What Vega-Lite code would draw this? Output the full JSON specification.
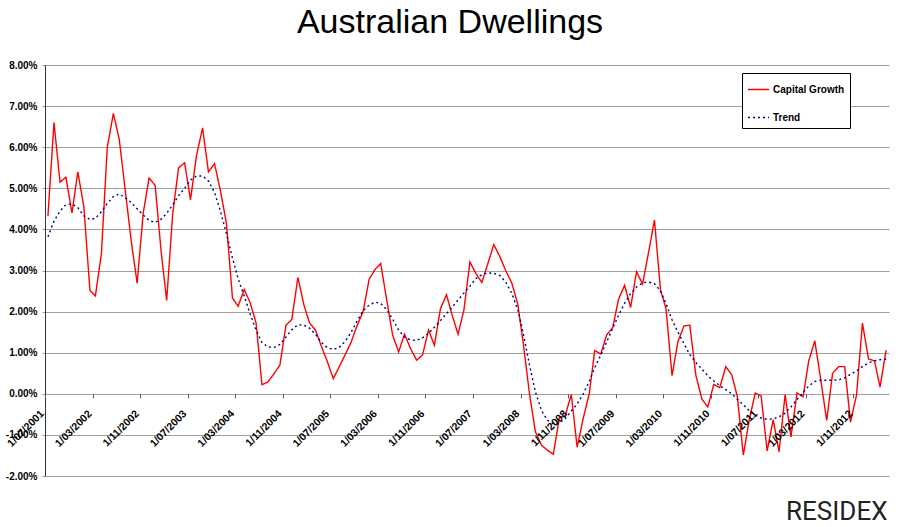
{
  "$schema": "https://vega.github.io/schema/vega-lite/v6.json",
  "width": 844,
  "height": 411,
  "autosize": {"type": "none"},
  "padding": {"left": 45, "top": 65, "right": 10, "bottom": 51},
  "background": "white",
  "title": {"text": "Australian Dwellings", "fontSize": 34, "font": "Liberation Sans", "fontWeight": "normal", "color": "#000000", "anchor": "middle", "dx": -17, "offset": -7, "baseline": "alphabetic"},
  "config": {
    "view": {"stroke": null},
    "legend": {"orient": "none", "legendX": 697, "legendY": 8, "padding": 5, "strokeColor": "#000000", "fillColor": "#ffffff", "symbolType": "stroke", "symbolSize": 440, "symbolStrokeWidth": 1.5, "labelFont": "Liberation Sans", "labelFontSize": 10, "labelFontWeight": "bold", "labelColor": "#000000", "rowPadding": 11, "labelOffset": 3, "cornerRadius": 0}
  },
  "data": {"values": [
    {"date": "2001-07-01", "Capital Growth": 4.32, "Trend": 3.82},
    {"date": "2001-08-01", "Capital Growth": 6.6, "Trend": 4.2},
    {"date": "2001-09-01", "Capital Growth": 5.15, "Trend": 4.45},
    {"date": "2001-10-01", "Capital Growth": 5.27, "Trend": 4.6},
    {"date": "2001-11-01", "Capital Growth": 4.4, "Trend": 4.62},
    {"date": "2001-12-01", "Capital Growth": 5.4, "Trend": 4.53},
    {"date": "2002-01-01", "Capital Growth": 4.55, "Trend": 4.33},
    {"date": "2002-02-01", "Capital Growth": 2.52, "Trend": 4.24},
    {"date": "2002-03-01", "Capital Growth": 2.38, "Trend": 4.27},
    {"date": "2002-04-01", "Capital Growth": 3.42, "Trend": 4.43},
    {"date": "2002-05-01", "Capital Growth": 6.0, "Trend": 4.63},
    {"date": "2002-06-01", "Capital Growth": 6.82, "Trend": 4.8},
    {"date": "2002-07-01", "Capital Growth": 6.2, "Trend": 4.86},
    {"date": "2002-08-01", "Capital Growth": 4.95, "Trend": 4.77},
    {"date": "2002-09-01", "Capital Growth": 3.7, "Trend": 4.65},
    {"date": "2002-10-01", "Capital Growth": 2.69, "Trend": 4.5},
    {"date": "2002-11-01", "Capital Growth": 4.4, "Trend": 4.35},
    {"date": "2002-12-01", "Capital Growth": 5.25, "Trend": 4.22},
    {"date": "2003-01-01", "Capital Growth": 5.07, "Trend": 4.17},
    {"date": "2003-02-01", "Capital Growth": 3.45, "Trend": 4.25},
    {"date": "2003-03-01", "Capital Growth": 2.27, "Trend": 4.39},
    {"date": "2003-04-01", "Capital Growth": 4.38, "Trend": 4.6},
    {"date": "2003-05-01", "Capital Growth": 5.5, "Trend": 4.82},
    {"date": "2003-06-01", "Capital Growth": 5.62, "Trend": 5.0},
    {"date": "2003-07-01", "Capital Growth": 4.72, "Trend": 5.2},
    {"date": "2003-08-01", "Capital Growth": 5.8, "Trend": 5.3},
    {"date": "2003-09-01", "Capital Growth": 6.47, "Trend": 5.3},
    {"date": "2003-10-01", "Capital Growth": 5.4, "Trend": 5.18},
    {"date": "2003-11-01", "Capital Growth": 5.6, "Trend": 4.9},
    {"date": "2003-12-01", "Capital Growth": 4.95, "Trend": 4.45},
    {"date": "2004-01-01", "Capital Growth": 4.15, "Trend": 3.9},
    {"date": "2004-02-01", "Capital Growth": 2.33, "Trend": 3.3},
    {"date": "2004-03-01", "Capital Growth": 2.13, "Trend": 2.8},
    {"date": "2004-04-01", "Capital Growth": 2.54, "Trend": 2.38},
    {"date": "2004-05-01", "Capital Growth": 2.22, "Trend": 1.95},
    {"date": "2004-06-01", "Capital Growth": 1.72, "Trend": 1.55},
    {"date": "2004-07-01", "Capital Growth": 0.22, "Trend": 1.25},
    {"date": "2004-08-01", "Capital Growth": 0.29, "Trend": 1.14},
    {"date": "2004-09-01", "Capital Growth": 0.49, "Trend": 1.13},
    {"date": "2004-10-01", "Capital Growth": 0.7, "Trend": 1.2},
    {"date": "2004-11-01", "Capital Growth": 1.67, "Trend": 1.38},
    {"date": "2004-12-01", "Capital Growth": 1.81, "Trend": 1.56},
    {"date": "2005-01-01", "Capital Growth": 2.83, "Trend": 1.68},
    {"date": "2005-02-01", "Capital Growth": 2.16, "Trend": 1.67},
    {"date": "2005-03-01", "Capital Growth": 1.73, "Trend": 1.6},
    {"date": "2005-04-01", "Capital Growth": 1.55, "Trend": 1.45},
    {"date": "2005-05-01", "Capital Growth": 1.16, "Trend": 1.25},
    {"date": "2005-06-01", "Capital Growth": 0.78, "Trend": 1.12},
    {"date": "2005-07-01", "Capital Growth": 0.37, "Trend": 1.08},
    {"date": "2005-08-01", "Capital Growth": 0.66, "Trend": 1.13},
    {"date": "2005-09-01", "Capital Growth": 0.96, "Trend": 1.28},
    {"date": "2005-10-01", "Capital Growth": 1.26, "Trend": 1.5},
    {"date": "2005-11-01", "Capital Growth": 1.67, "Trend": 1.78},
    {"date": "2005-12-01", "Capital Growth": 2.0, "Trend": 2.02},
    {"date": "2006-01-01", "Capital Growth": 2.79, "Trend": 2.16},
    {"date": "2006-02-01", "Capital Growth": 3.03, "Trend": 2.23},
    {"date": "2006-03-01", "Capital Growth": 3.17, "Trend": 2.2},
    {"date": "2006-04-01", "Capital Growth": 2.28, "Trend": 2.05},
    {"date": "2006-05-01", "Capital Growth": 1.43, "Trend": 1.82},
    {"date": "2006-06-01", "Capital Growth": 1.02, "Trend": 1.55},
    {"date": "2006-07-01", "Capital Growth": 1.45, "Trend": 1.38},
    {"date": "2006-08-01", "Capital Growth": 1.1, "Trend": 1.31},
    {"date": "2006-09-01", "Capital Growth": 0.82, "Trend": 1.3},
    {"date": "2006-10-01", "Capital Growth": 0.94, "Trend": 1.36},
    {"date": "2006-11-01", "Capital Growth": 1.55, "Trend": 1.47},
    {"date": "2006-12-01", "Capital Growth": 1.18, "Trend": 1.62},
    {"date": "2007-01-01", "Capital Growth": 2.07, "Trend": 1.78},
    {"date": "2007-02-01", "Capital Growth": 2.41, "Trend": 1.95},
    {"date": "2007-03-01", "Capital Growth": 1.93, "Trend": 2.1},
    {"date": "2007-04-01", "Capital Growth": 1.45, "Trend": 2.28},
    {"date": "2007-05-01", "Capital Growth": 2.03, "Trend": 2.45},
    {"date": "2007-06-01", "Capital Growth": 3.21, "Trend": 2.62},
    {"date": "2007-07-01", "Capital Growth": 2.93, "Trend": 2.8},
    {"date": "2007-08-01", "Capital Growth": 2.71, "Trend": 2.9},
    {"date": "2007-09-01", "Capital Growth": 3.17, "Trend": 2.94},
    {"date": "2007-10-01", "Capital Growth": 3.63, "Trend": 2.93},
    {"date": "2007-11-01", "Capital Growth": 3.34, "Trend": 2.88},
    {"date": "2007-12-01", "Capital Growth": 3.0, "Trend": 2.72},
    {"date": "2008-01-01", "Capital Growth": 2.7, "Trend": 2.45},
    {"date": "2008-02-01", "Capital Growth": 2.18, "Trend": 2.05},
    {"date": "2008-03-01", "Capital Growth": 1.2, "Trend": 1.45},
    {"date": "2008-04-01", "Capital Growth": 0.0, "Trend": 0.7},
    {"date": "2008-05-01", "Capital Growth": -0.92, "Trend": 0.05},
    {"date": "2008-06-01", "Capital Growth": -1.25, "Trend": -0.4},
    {"date": "2008-07-01", "Capital Growth": -1.37, "Trend": -0.64},
    {"date": "2008-08-01", "Capital Growth": -1.47, "Trend": -0.73},
    {"date": "2008-09-01", "Capital Growth": -0.58, "Trend": -0.71},
    {"date": "2008-10-01", "Capital Growth": -0.53, "Trend": -0.6},
    {"date": "2008-11-01", "Capital Growth": -0.02, "Trend": -0.42},
    {"date": "2008-12-01", "Capital Growth": -1.3, "Trend": -0.25},
    {"date": "2009-01-01", "Capital Growth": -0.6, "Trend": 0.0},
    {"date": "2009-02-01", "Capital Growth": 0.0, "Trend": 0.3},
    {"date": "2009-03-01", "Capital Growth": 1.05, "Trend": 0.64},
    {"date": "2009-04-01", "Capital Growth": 0.97, "Trend": 0.94},
    {"date": "2009-05-01", "Capital Growth": 1.43, "Trend": 1.26},
    {"date": "2009-06-01", "Capital Growth": 1.61, "Trend": 1.59},
    {"date": "2009-07-01", "Capital Growth": 2.3, "Trend": 1.91},
    {"date": "2009-08-01", "Capital Growth": 2.64, "Trend": 2.2},
    {"date": "2009-09-01", "Capital Growth": 2.1, "Trend": 2.44},
    {"date": "2009-10-01", "Capital Growth": 2.97, "Trend": 2.6},
    {"date": "2009-11-01", "Capital Growth": 2.67, "Trend": 2.7},
    {"date": "2009-12-01", "Capital Growth": 3.42, "Trend": 2.72},
    {"date": "2010-01-01", "Capital Growth": 4.23, "Trend": 2.68},
    {"date": "2010-02-01", "Capital Growth": 2.52, "Trend": 2.5},
    {"date": "2010-03-01", "Capital Growth": 2.08, "Trend": 2.2},
    {"date": "2010-04-01", "Capital Growth": 0.44, "Trend": 1.8},
    {"date": "2010-05-01", "Capital Growth": 1.27, "Trend": 1.5},
    {"date": "2010-06-01", "Capital Growth": 1.65, "Trend": 1.22},
    {"date": "2010-07-01", "Capital Growth": 1.67, "Trend": 0.95},
    {"date": "2010-08-01", "Capital Growth": 0.45, "Trend": 0.76},
    {"date": "2010-09-01", "Capital Growth": -0.13, "Trend": 0.6},
    {"date": "2010-10-01", "Capital Growth": -0.32, "Trend": 0.44},
    {"date": "2010-11-01", "Capital Growth": 0.23, "Trend": 0.31},
    {"date": "2010-12-01", "Capital Growth": 0.15, "Trend": 0.2},
    {"date": "2011-01-01", "Capital Growth": 0.66, "Trend": 0.1},
    {"date": "2011-02-01", "Capital Growth": 0.46, "Trend": 0.0},
    {"date": "2011-03-01", "Capital Growth": -0.06, "Trend": -0.13},
    {"date": "2011-04-01", "Capital Growth": -1.49, "Trend": -0.27},
    {"date": "2011-05-01", "Capital Growth": -0.64, "Trend": -0.41},
    {"date": "2011-06-01", "Capital Growth": 0.02, "Trend": -0.52},
    {"date": "2011-07-01", "Capital Growth": -0.05, "Trend": -0.59},
    {"date": "2011-08-01", "Capital Growth": -1.39, "Trend": -0.62},
    {"date": "2011-09-01", "Capital Growth": -0.63, "Trend": -0.61},
    {"date": "2011-10-01", "Capital Growth": -1.41, "Trend": -0.56},
    {"date": "2011-11-01", "Capital Growth": -0.02, "Trend": -0.47},
    {"date": "2011-12-01", "Capital Growth": -1.05, "Trend": -0.32},
    {"date": "2012-01-01", "Capital Growth": 0.02, "Trend": -0.14},
    {"date": "2012-02-01", "Capital Growth": -0.07, "Trend": 0.03},
    {"date": "2012-03-01", "Capital Growth": 0.8, "Trend": 0.19},
    {"date": "2012-04-01", "Capital Growth": 1.29, "Trend": 0.3},
    {"date": "2012-05-01", "Capital Growth": 0.36, "Trend": 0.33},
    {"date": "2012-06-01", "Capital Growth": -0.65, "Trend": 0.33},
    {"date": "2012-07-01", "Capital Growth": 0.5, "Trend": 0.33},
    {"date": "2012-08-01", "Capital Growth": 0.66, "Trend": 0.34},
    {"date": "2012-09-01", "Capital Growth": 0.66, "Trend": 0.39},
    {"date": "2012-10-01", "Capital Growth": -0.69, "Trend": 0.47},
    {"date": "2012-11-01", "Capital Growth": -0.02, "Trend": 0.56},
    {"date": "2012-12-01", "Capital Growth": 1.72, "Trend": 0.66},
    {"date": "2013-01-01", "Capital Growth": 0.85, "Trend": 0.75},
    {"date": "2013-02-01", "Capital Growth": 0.8, "Trend": 0.8},
    {"date": "2013-03-01", "Capital Growth": 0.16, "Trend": 0.83},
    {"date": "2013-04-01", "Capital Growth": 1.06, "Trend": 0.84}
  ]},
  "transform": [{"fold": ["Capital Growth", "Trend"], "as": ["series", "value"]}],
  "mark": {"type": "line", "strokeWidth": 1.4},
  "encoding": {
    "x": {
      "field": "date", "type": "temporal",
      "scale": {"type": "utc", "domain": [{"year": 2001, "month": 6, "date": 16, "utc": true}, {"year": 2013, "month": 4, "date": 16, "utc": true}]},
      "axis": {
        "orient": "bottom", "offset": -82.2,
        "values": [
          {"year": 2001, "month": 6, "date": 16, "utc": true},
          {"year": 2002, "month": 2, "date": 15, "utc": true},
          {"year": 2002, "month": 10, "date": 16, "utc": true},
          {"year": 2003, "month": 6, "date": 16, "utc": true},
          {"year": 2004, "month": 2, "date": 15, "utc": true},
          {"year": 2004, "month": 10, "date": 16, "utc": true},
          {"year": 2005, "month": 6, "date": 16, "utc": true},
          {"year": 2006, "month": 2, "date": 15, "utc": true},
          {"year": 2006, "month": 10, "date": 16, "utc": true},
          {"year": 2007, "month": 6, "date": 16, "utc": true},
          {"year": 2008, "month": 2, "date": 15, "utc": true},
          {"year": 2008, "month": 10, "date": 16, "utc": true},
          {"year": 2009, "month": 6, "date": 16, "utc": true},
          {"year": 2010, "month": 2, "date": 15, "utc": true},
          {"year": 2010, "month": 10, "date": 16, "utc": true},
          {"year": 2011, "month": 6, "date": 16, "utc": true},
          {"year": 2012, "month": 2, "date": 15, "utc": true},
          {"year": 2012, "month": 10, "date": 16, "utc": true}
        ],
        "labelExpr": "utcFormat(utc(utcyear(datum.value), utcmonth(datum.value) + 1, 1), '%-d/%m/%Y')",
        "labelAngle": -45, "labelAlign": "right", "labelBaseline": "middle", "labelPadding": 14, "labelOffset": -3,
        "labelFont": "Liberation Sans", "labelFontSize": 10.5, "labelFontWeight": "bold", "labelColor": "#000000",
        "labelOverlap": false, "labelBound": false, "labelFlush": false,
        "domain": false, "grid": false, "ticks": true, "tickSize": 4, "tickColor": "#555555",
        "title": "RESIDEX", "titleX": 842, "titleY": 126, "titleAlign": "right", "titleBaseline": "alphabetic",
        "titleFont": "Roboto", "titleFontSize": 26, "titleFontWeight": "normal", "titleColor": "#222222",
        "zindex": 1
      }
    },
    "y": {
      "field": "value", "type": "quantitative",
      "scale": {"domain": [-2, 8], "nice": false, "zero": false},
      "axis": {
        "values": [-2, -1, 0, 1, 2, 3, 4, 5, 6, 7, 8],
        "labelExpr": "replace(format(datum.value, '.2f'), '\u2212', '-') + '%'",
        "labelFont": "Liberation Sans", "labelFontSize": 10, "labelFontWeight": "bold", "labelColor": "#000000",
        "labelPadding": 5, "tickSize": 3, "tickColor": "#999999",
        "domainColor": "#333333", "domainWidth": 1,
        "grid": true, "gridColor": "#a0a0a0", "gridWidth": 1,
        "title": null
      }
    },
    "color": {
      "field": "series", "type": "nominal",
      "scale": {"domain": ["Capital Growth", "Trend"], "range": ["#ff0000", "#000080"]},
      "legend": {"title": null}
    },
    "strokeDash": {
      "field": "series", "type": "nominal",
      "scale": {"domain": ["Capital Growth", "Trend"], "range": [[1, 0], [2, 3]]},
      "legend": {"title": null}
    }
  }
}
